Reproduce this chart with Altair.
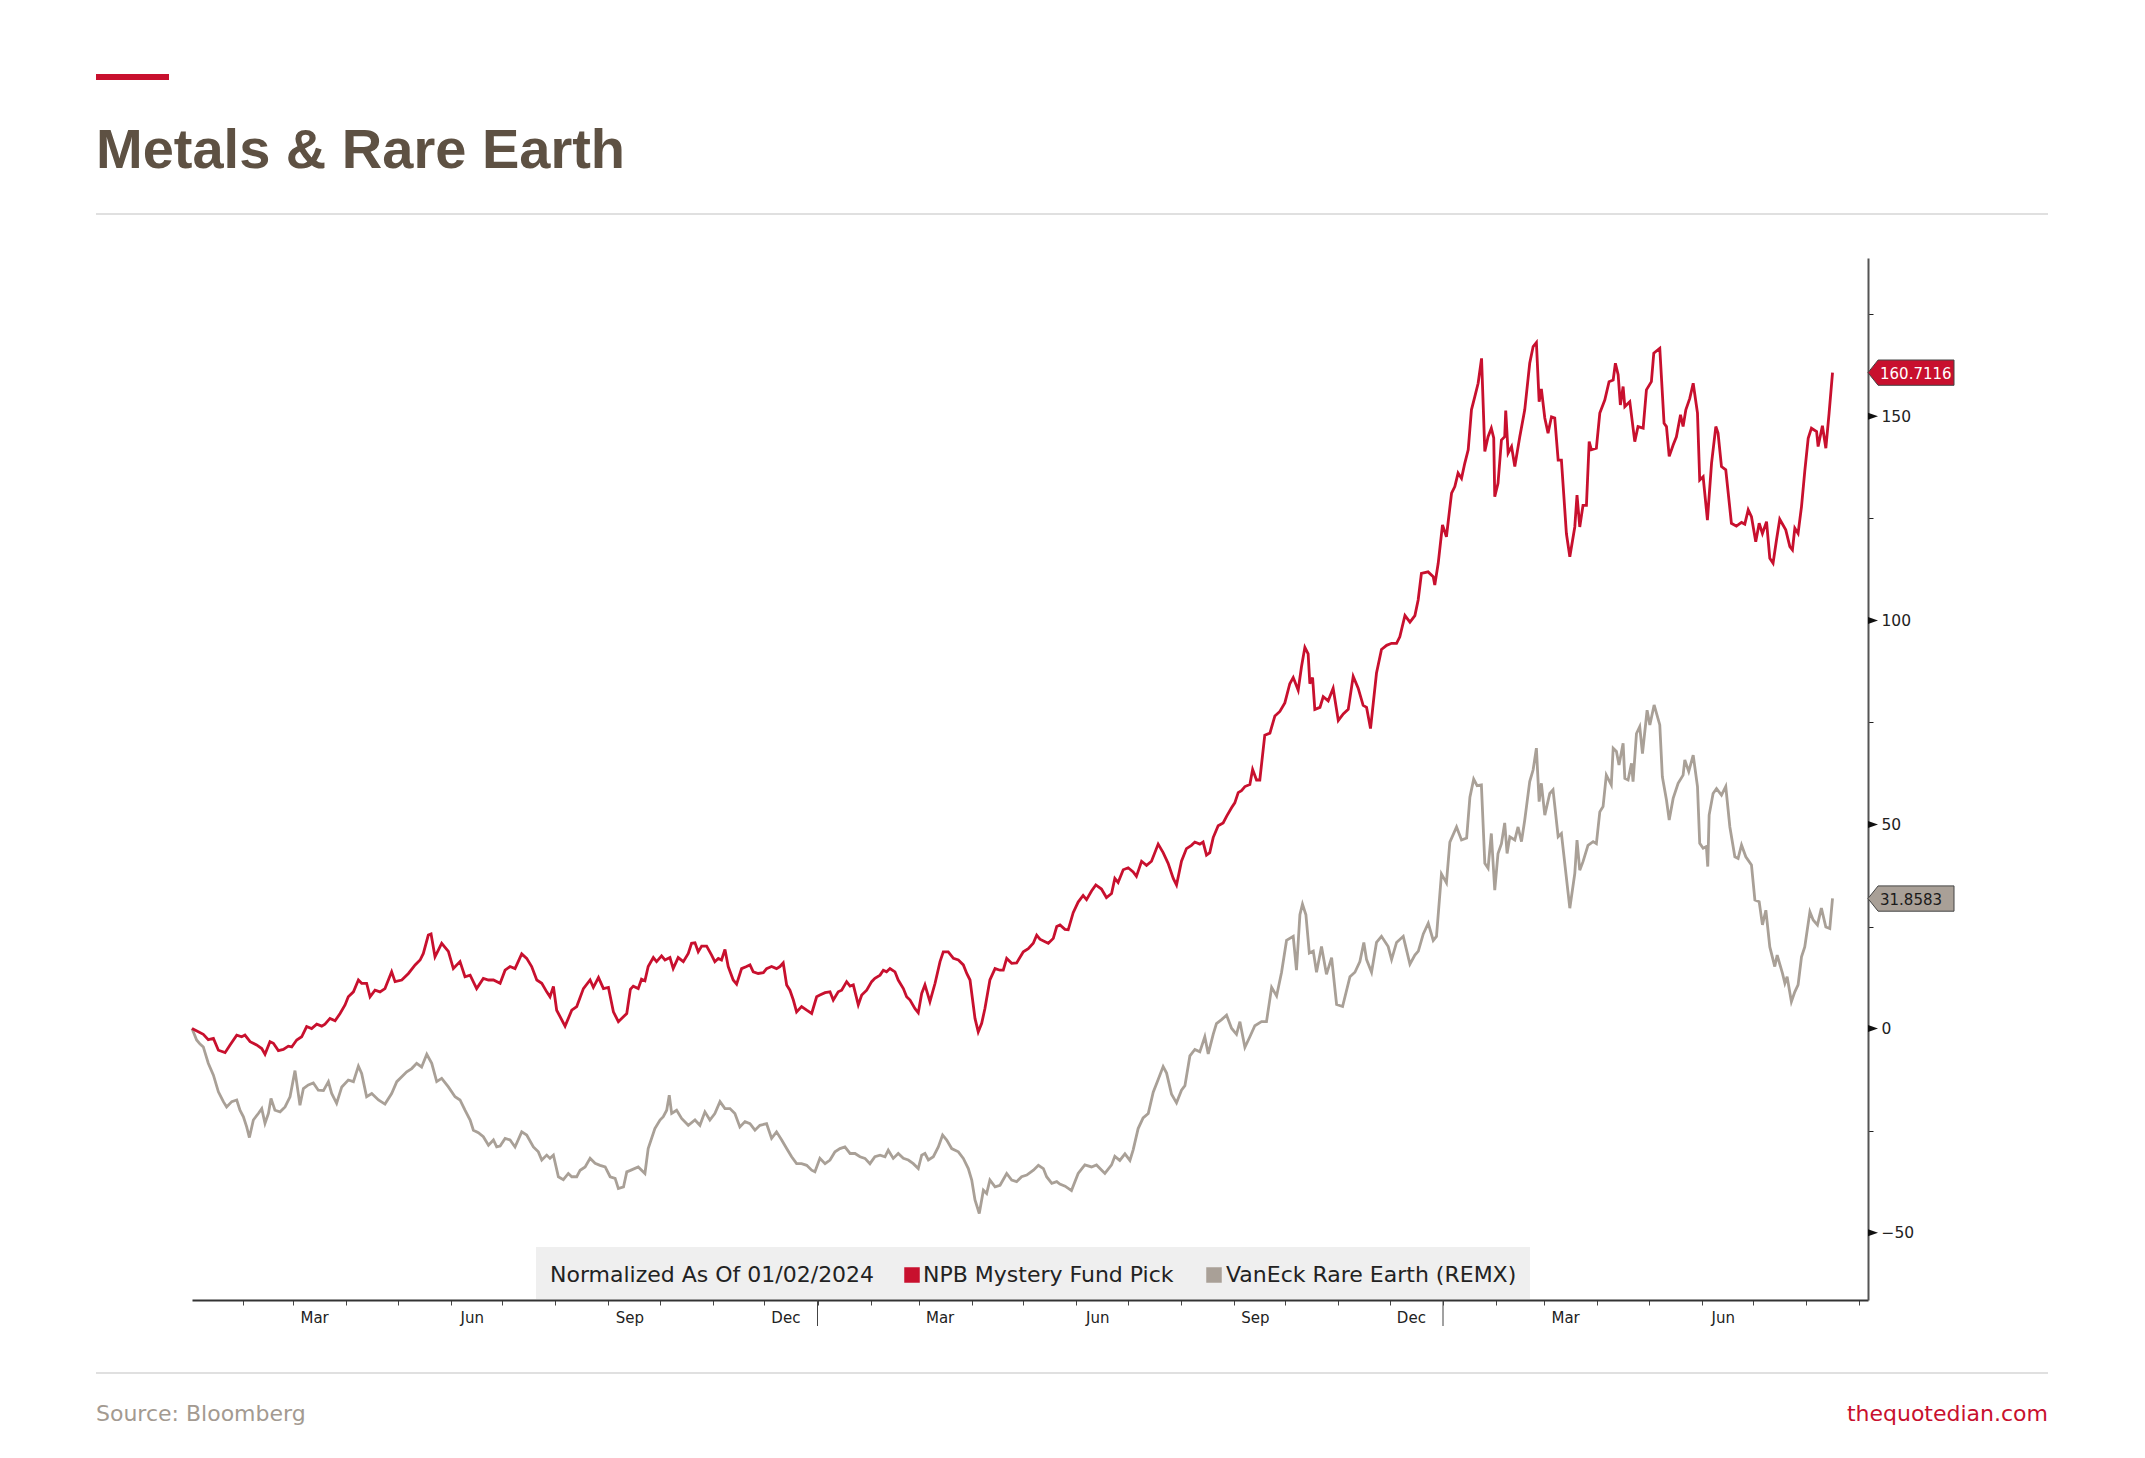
import altair as alt
import pandas as pd

# ---------------- data ----------------
START = "2024-01-02"
SERIES = ["NPB Mystery Fund Pick", "VanEck Rare Earth (REMX)"]
COLORS = ["#c8102e", "#a9a097"]

# (days since 02 Jan 2024, normalized % change)
npb_points = [
    (0, 0.0), (3.7, -0.8), (6.6, -1.4), (9.5, -2.7), (12.5, -2.4), (15.4, -5.3), (19.3, -5.9),
    (22.2, -4.0), (26.1, -1.6), (29.0, -2.0), (30.9, -1.6), (33.9, -3.2), (37.7, -4.0), (40.7, -4.9),
    (42.6, -6.3), (45.5, -3.2), (47.5, -3.6), (50.4, -5.4), (53.3, -5.1), (56.2, -4.3), (58.2, -4.5),
    (61.1, -2.8), (64.0, -2.0), (66.9, 0.5), (69.8, 0.0), (72.8, 1.1), (75.7, 0.6), (77.6, 1.1),
    (80.5, 2.5), (83.5, 1.9), (86.4, 3.7), (89.3, 5.8), (91.2, 7.8), (94.2, 9.0), (97.1, 11.9),
    (99.0, 11.1), (101.9, 11.1), (103.9, 7.8), (106.8, 9.4), (109.7, 9.0), (112.6, 9.8), (116.5, 13.9),
    (118.5, 11.5), (122.4, 11.9), (126.3, 13.5), (130.2, 15.6), (133.1, 16.8), (135.0, 18.4),
    (137.9, 22.9), (139.5, 23.2), (141.8, 17.6), (145.7, 20.9), (149.6, 18.9), (152.5, 14.7),
    (156.4, 16.4), (159.3, 12.7), (162.3, 13.1), (166.1, 9.8), (170.0, 12.3), (173.0, 11.9),
    (175.9, 11.9), (179.8, 11.1), (182.7, 14.3), (185.6, 15.2), (188.5, 14.7), (192.4, 18.3),
    (195.3, 17.2), (198.2, 15.2), (201.2, 11.9), (204.1, 11.1), (207.0, 9.0), (208.9, 7.8),
    (210.9, 10.3), (212.8, 4.5), (217.7, 0.6), (221.6, 4.5), (224.5, 5.4), (228.4, 9.8), (232.3, 11.9),
    (234.2, 10.1), (237.2, 12.5), (240.1, 9.8), (243.0, 10.1), (245.9, 4.1), (248.8, 1.7), (253.7, 3.7),
    (255.8, 9.6), (257.5, 10.4), (260.4, 9.8), (262.3, 12.1), (264.3, 11.7), (266.2, 15.2),
    (269.2, 17.4), (271.1, 16.4), (274.0, 17.8), (276.0, 16.8), (278.9, 17.4), (280.8, 14.7),
    (283.7, 17.4), (286.7, 16.4), (289.6, 18.4), (291.5, 20.9), (293.5, 21.0), (295.4, 18.8),
    (297.4, 20.2), (300.3, 20.2), (303.2, 18.0), (305.1, 16.4), (307.1, 17.2), (309.0, 16.8),
    (311.0, 19.4), (312.9, 15.2), (315.8, 11.9), (317.8, 10.9), (320.7, 14.7), (323.6, 15.2),
    (325.6, 15.6), (327.5, 13.9), (330.4, 13.5), (333.4, 13.7), (335.3, 14.7), (338.2, 15.2),
    (341.1, 14.7), (343.1, 15.2), (345.0, 16.1), (347.0, 10.7), (348.9, 9.4), (350.9, 7.0),
    (352.8, 4.1), (355.7, 5.4), (358.7, 4.5), (361.6, 3.7), (364.5, 7.8), (366.4, 8.2), (369.4, 8.8),
    (372.3, 9.0), (374.2, 7.0), (377.1, 9.0), (379.1, 9.4), (382.0, 11.5), (384.0, 10.4), (385.9, 10.7),
    (388.8, 5.8), (390.8, 8.2), (393.7, 9.4), (396.6, 11.5), (398.5, 12.3), (401.5, 13.1), (403.4, 14.3),
    (405.3, 13.9), (407.3, 14.7), (410.2, 13.9), (412.1, 11.9), (415.1, 9.8), (417.0, 7.8), (419.0, 7.0),
    (421.9, 4.9), (423.8, 3.9), (425.8, 8.6), (427.7, 10.7), (430.6, 6.6), (433.6, 11.1), (436.5, 16.4),
    (438.4, 18.8), (441.3, 18.8), (444.3, 17.2), (447.2, 16.8), (450.1, 15.6), (452.1, 13.5),
    (454.0, 11.9), (456.9, 2.5), (458.8, -0.8), (460.8, 1.3), (462.7, 4.9), (465.6, 11.9), (468.6, 14.7),
    (471.5, 14.3), (473.4, 14.3), (475.4, 17.2), (478.3, 16.0), (481.2, 16.1), (485.1, 18.8),
    (488.0, 19.6), (490.9, 20.9), (492.9, 22.9), (494.8, 21.9), (497.8, 21.3), (499.7, 20.9),
    (502.6, 22.1), (504.6, 25.0), (506.5, 25.4), (509.4, 24.3), (511.3, 24.2), (514.2, 28.4),
    (517.1, 31.0), (520.0, 32.6), (522.0, 31.6), (524.9, 33.7), (527.4, 35.2), (530.7, 34.2),
    (533.6, 32.1), (536.6, 33.1), (538.5, 36.8), (540.4, 35.8), (543.4, 38.9), (546.3, 39.4),
    (549.2, 38.4), (551.1, 37.3), (554.1, 41.0), (557.0, 40.0), (559.9, 41.0), (563.8, 45.2),
    (566.7, 43.1), (569.6, 40.5), (572.6, 36.8), (574.5, 35.2), (577.4, 41.0), (580.3, 44.1),
    (583.2, 44.9), (585.2, 45.7), (588.1, 45.2), (590.0, 45.7), (592.0, 42.5), (593.9, 43.1),
    (595.9, 46.8), (598.8, 49.7), (601.7, 50.4), (603.7, 52.0), (606.6, 54.1), (608.5, 55.3),
    (610.5, 57.8), (612.4, 58.3), (614.4, 59.3), (617.3, 59.8), (618.9, 63.5), (621.2, 60.9),
    (623.1, 60.9), (626.0, 71.9), (629.0, 72.4), (631.9, 76.6), (634.8, 77.7), (637.7, 79.8),
    (640.6, 84.5), (642.6, 86.0), (645.5, 82.9), (647.4, 88.6), (649.4, 93.4), (651.3, 91.8),
    (652.3, 84.5), (653.9, 86.0), (655.2, 78.2), (658.2, 78.7), (660.1, 81.3), (663.0, 80.3),
    (665.9, 83.4), (668.9, 75.5), (671.8, 77.1), (674.7, 78.2), (677.6, 86.3), (680.5, 83.4),
    (683.4, 79.2), (685.4, 78.7), (687.7, 73.5), (691.2, 87.1), (694.1, 92.9), (697.1, 93.9),
    (700.0, 94.4), (702.9, 94.4), (704.8, 96.0), (707.8, 101.2), (710.7, 99.6), (713.6, 101.2),
    (715.5, 105.0), (717.4, 111.5), (721.3, 111.9), (724.3, 110.7), (725.2, 108.7), (727.2, 114.0),
    (729.7, 123.4), (732.0, 120.5), (735.0, 131.2), (736.9, 132.8), (738.8, 136.1), (740.8, 134.8),
    (742.7, 138.5), (744.7, 141.8), (746.6, 151.6), (748.6, 154.9), (750.5, 158.1), (752.5, 164.2),
    (754.4, 141.4), (756.3, 145.0), (758.2, 147.1), (759.6, 144.7), (760.2, 130.3), (762.1, 133.6),
    (764.1, 144.2), (766.0, 145.0), (766.6, 151.4), (768.0, 141.0), (770.0, 142.6), (771.9, 137.7),
    (774.8, 145.0), (777.7, 151.6), (780.6, 163.0), (782.6, 167.1), (784.5, 168.1), (786.1, 153.6),
    (787.4, 156.7), (789.4, 149.6), (791.3, 145.9), (793.3, 149.9), (795.2, 149.6), (797.2, 139.3),
    (799.1, 139.3), (802.0, 121.3), (804.0, 115.6), (806.9, 122.9), (808.2, 130.7), (809.8, 122.9),
    (811.7, 128.2), (813.7, 128.2), (815.3, 143.8), (816.6, 141.8), (819.5, 142.2), (821.5, 150.8),
    (824.4, 154.0), (826.9, 158.5), (829.3, 158.9), (830.6, 163.0), (832.2, 160.2), (833.5, 152.8),
    (835.1, 157.3), (836.1, 152.4), (839.0, 153.6), (841.9, 143.8), (843.8, 147.5), (846.8, 147.1),
    (848.7, 156.5), (851.6, 158.5), (853.0, 165.5), (856.5, 166.7), (859.0, 148.3), (860.4, 147.5),
    (862.0, 140.2), (864.3, 143.0), (866.2, 145.0), (868.6, 150.4), (870.1, 147.5), (871.7, 151.6),
    (874.0, 154.4), (876.0, 158.1), (878.5, 150.8), (879.8, 134.4), (881.8, 135.2), (884.3, 124.6),
    (886.7, 138.5), (889.2, 147.5), (890.5, 145.9), (892.5, 137.7), (895.0, 136.9), (898.3, 123.8),
    (901.2, 123.1), (904.2, 124.0), (906.1, 123.6), (908.1, 127.1), (910.0, 125.4), (912.5, 119.3),
    (914.5, 123.8), (916.4, 121.3), (918.8, 124.2), (920.7, 115.2), (922.6, 114.0), (924.6, 119.7),
    (926.5, 124.8), (930.0, 122.2), (932.4, 118.1), (933.9, 117.3), (935.3, 122.6), (937.2, 121.3),
    (939.2, 127.9), (941.1, 136.5), (943.1, 144.6), (945.0, 147.1), (948.0, 146.3), (948.9, 142.6),
    (951.4, 147.7), (953.4, 142.2), (955.3, 150.8), (957.3, 160.7),
]

remx_points = [
    (0, 0.0), (2.7, -2.8), (4.7, -3.8), (6.6, -4.5), (9.5, -8.5), (12.5, -11.4), (15.4, -15.5),
    (18.3, -17.9), (20.2, -19.2), (23.2, -17.9), (26.1, -17.5), (28.0, -20.0), (30.0, -21.6),
    (31.9, -24.1), (33.5, -26.7), (35.8, -22.4), (38.7, -20.8), (40.7, -19.6), (42.6, -23.2),
    (44.6, -20.8), (46.1, -17.1), (48.4, -20.0), (51.4, -20.4), (54.3, -19.2), (57.2, -16.7),
    (60.1, -10.3), (63.0, -18.8), (65.0, -14.7), (67.9, -13.8), (70.8, -13.3), (73.7, -15.1),
    (76.7, -15.2), (79.6, -13.0), (81.5, -15.9), (84.4, -18.3), (87.4, -14.3), (91.2, -12.6),
    (94.2, -13.0), (97.1, -9.2), (99.0, -11.0), (101.9, -16.7), (104.9, -15.9), (108.8, -17.5),
    (112.6, -18.5), (116.5, -15.9), (119.5, -13.0), (122.4, -11.8), (125.3, -10.6), (128.2, -9.8),
    (131.1, -8.5), (134.0, -9.4), (137.0, -6.3), (139.9, -8.5), (142.8, -13.0), (145.7, -12.2),
    (149.6, -14.3), (153.5, -16.7), (156.4, -17.5), (159.3, -20.0), (162.3, -22.4), (164.2, -24.9),
    (167.1, -25.5), (170.0, -26.5), (173.0, -28.6), (175.9, -27.3), (177.8, -29.0), (179.8, -28.8),
    (182.7, -26.9), (185.6, -27.3), (188.5, -29.0), (192.4, -25.3), (195.3, -26.1), (199.2, -29.0),
    (202.1, -30.2), (204.1, -32.2), (207.0, -31.0), (208.9, -31.8), (210.9, -31.0), (213.8, -36.3),
    (216.7, -37.0), (219.6, -35.5), (221.6, -36.3), (224.5, -36.3), (226.5, -34.7), (229.4, -33.9),
    (232.3, -31.8), (235.2, -33.0), (238.1, -33.5), (241.1, -33.9), (244.0, -36.3), (246.9, -36.7),
    (248.8, -39.2), (251.8, -38.8), (253.7, -35.1), (255.5, -34.8), (260.4, -33.9), (264.3, -35.5),
    (266.2, -29.4), (270.1, -24.5), (273.1, -22.4), (275.0, -21.6), (277.0, -20.0), (278.5, -16.3),
    (279.9, -20.8), (282.8, -20.0), (285.7, -22.0), (289.6, -23.7), (293.5, -22.4), (296.4, -23.7),
    (299.3, -20.4), (302.2, -22.4), (305.1, -20.8), (308.1, -17.9), (311.0, -19.6), (313.9, -19.6),
    (316.8, -20.8), (319.7, -24.1), (322.7, -22.8), (325.6, -23.3), (328.5, -24.9), (331.4, -23.7),
    (335.3, -23.3), (338.2, -26.9), (341.1, -25.3), (344.1, -27.3), (347.0, -29.4), (349.9, -31.4),
    (352.8, -33.1), (355.7, -33.1), (358.7, -33.5), (361.6, -34.7), (363.5, -35.1), (366.4, -31.8),
    (369.4, -33.1), (372.3, -32.2), (375.2, -30.2), (378.1, -29.4), (381.0, -29.0), (384.0, -30.6),
    (386.9, -30.6), (389.8, -31.4), (392.7, -31.8), (395.6, -33.1), (398.5, -31.4), (401.5, -31.0),
    (404.4, -31.4), (406.3, -29.8), (409.2, -31.8), (412.1, -30.6), (415.1, -31.8), (418.0, -32.2),
    (420.9, -33.1), (423.8, -34.3), (425.8, -31.0), (427.7, -30.6), (429.7, -32.2), (432.6, -31.4),
    (435.5, -29.0), (438.0, -26.1), (440.4, -27.3), (443.3, -29.4), (447.2, -30.2), (450.1, -31.8),
    (453.0, -34.3), (455.0, -37.1), (456.9, -42.0), (459.4, -45.3), (461.8, -39.6), (463.7, -40.4),
    (465.6, -37.1), (468.6, -38.8), (471.5, -38.4), (475.4, -35.5), (478.3, -37.1), (481.2, -37.5),
    (484.1, -36.3), (487.1, -35.9), (491.0, -34.7), (493.9, -33.5), (496.8, -34.3), (498.7, -36.3),
    (501.7, -37.9), (504.6, -37.5), (506.4, -38.1), (509.5, -38.6), (513.2, -39.7), (517.1, -35.5),
    (521.0, -33.4), (524.9, -33.9), (527.8, -33.4), (532.7, -35.5), (536.6, -33.4), (538.5, -31.3),
    (541.4, -32.3), (544.4, -30.7), (547.3, -32.3), (549.2, -29.7), (552.1, -24.5), (555.0, -21.9),
    (558.0, -20.8), (560.9, -15.6), (563.8, -12.5), (566.7, -9.3), (568.7, -10.9), (571.6, -16.1),
    (574.5, -18.2), (577.4, -15.1), (579.4, -14.0), (582.3, -6.7), (585.2, -5.1), (588.1, -5.7),
    (591.0, -2.0), (593.0, -6.2), (595.9, -1.4), (597.8, 1.2), (600.8, 2.2), (603.7, 3.3),
    (606.6, 0.1), (609.5, -1.4), (611.5, 1.7), (614.4, -4.6), (617.3, -2.0), (620.2, 0.7),
    (624.1, 1.7), (627.0, 1.7), (630.0, 10.1), (632.9, 8.0), (635.8, 13.8), (638.7, 21.6),
    (642.6, 22.6), (644.5, 14.3), (646.5, 27.9), (648.0, 30.5), (650.0, 27.9), (652.0, 18.5),
    (654.3, 19.0), (656.2, 13.8), (659.1, 20.1), (662.0, 13.3), (665.0, 17.4), (667.9, 5.9),
    (671.4, 5.4), (675.7, 12.7), (678.6, 13.8), (681.5, 16.4), (683.8, 21.1), (685.4, 16.9),
    (688.3, 13.8), (691.2, 21.1), (694.1, 22.6), (698.0, 20.1), (700.0, 16.9), (702.9, 21.1),
    (706.8, 22.6), (710.7, 15.8), (713.6, 18.0), (715.6, 19.0), (718.5, 23.2), (721.4, 25.8),
    (724.3, 21.6), (726.2, 22.6), (729.1, 37.9), (732.0, 35.7), (734.0, 45.7), (737.9, 49.4),
    (740.8, 46.2), (743.8, 46.7), (745.7, 56.7), (747.9, 61.1), (749.9, 59.5), (752.4, 59.7),
    (754.4, 40.5), (756.3, 39.3), (758.2, 47.8), (760.2, 33.9), (762.1, 42.9), (764.1, 45.3),
    (766.0, 50.4), (767.4, 42.9), (769.0, 47.0), (771.9, 46.2), (773.8, 49.4), (775.8, 45.8),
    (777.7, 51.1), (780.6, 60.5), (782.6, 63.4), (784.5, 68.7), (786.1, 55.6), (787.4, 60.1),
    (789.4, 52.3), (792.3, 57.6), (794.2, 58.5), (797.2, 47.0), (799.1, 47.8), (804.0, 29.5),
    (806.9, 38.0), (808.2, 46.2), (809.8, 38.8), (811.7, 40.9), (814.6, 44.9), (817.6, 45.8),
    (819.5, 45.3), (821.5, 53.1), (823.4, 54.4), (825.3, 62.1), (828.2, 59.7), (829.3, 68.7),
    (831.2, 67.9), (832.7, 64.6), (835.1, 69.9), (836.1, 61.3), (838.0, 60.9), (840.0, 65.0),
    (840.9, 60.5), (842.9, 72.3), (844.8, 74.0), (846.4, 67.4), (849.1, 78.0), (850.7, 74.4),
    (853.2, 79.3), (856.5, 74.4), (858.0, 61.7), (860.4, 56.0), (862.0, 51.1), (864.3, 56.4),
    (867.2, 60.1), (870.1, 62.1), (871.1, 65.8), (873.4, 63.0), (876.0, 67.0), (878.5, 59.3),
    (879.8, 45.4), (881.8, 44.2), (883.7, 44.6), (884.5, 39.7), (885.3, 52.3), (887.6, 57.6),
    (889.6, 58.8), (892.5, 57.2), (895.0, 59.3), (897.4, 49.4), (900.3, 42.1), (902.2, 41.7),
    (904.2, 45.0), (906.7, 42.1), (910.0, 40.1), (912.0, 31.5), (914.5, 31.1), (916.4, 25.4),
    (918.4, 29.0), (920.7, 20.0), (923.6, 15.2), (925.0, 18.0), (928.1, 13.5), (929.5, 11.1),
    (930.8, 12.7), (933.3, 6.6), (935.3, 9.0), (937.2, 10.7), (939.2, 17.6), (941.1, 20.0),
    (944.1, 28.6), (946.0, 26.6), (948.5, 25.4), (950.8, 29.5), (953.4, 24.9), (955.7, 24.5),
    (957.3, 31.9),
]

last_values = [160.7116, 31.8583]
last_labels = ["160.7116", "31.8583"]
y_tick_values = [-50, -25, 0, 25, 50, 75, 100, 125, 150, 175]
y_major_values = [-50, 0, 50, 100, 150]
month_tick_list = [(2024, m) for m in range(2, 13)] + [(2025, m) for m in range(1, 13)] + [(2026, m) for m in range(1, 10)]
year_tick_dates = ["2025-01-01", "2026-01-01"]
title_text = ["Metals & Rare Earth"]
legend_title = ["Normalized As Of 01/02/2024"]
source_text = ["Source: Bloomberg"]
site_text = ["thequotedian.com"]

# ---------------- frames ----------------
start = pd.Timestamp(START)


def frame(points, name):
    d, v = zip(*points)
    return pd.DataFrame({
        "date": start + pd.to_timedelta(list(d), unit="D"),
        "value": list(v),
        "series": name,
    })


lines_df = pd.concat([frame(remx_points, SERIES[1]), frame(npb_points, SERIES[0])], ignore_index=True)
tags_df = pd.DataFrame({"series": SERIES, "value": last_values, "label": last_labels})
major_df = pd.DataFrame({"value": y_major_values})
year_df = pd.DataFrame({"date": pd.to_datetime(year_tick_dates)})

# ---------------- layout ----------------
W, H = 1676, 1042
FONT = "Liberation Sans"
BBG = "DejaVu Sans"
RED = COLORS[0]
GREY = COLORS[1]

x_domain = [alt.DateTime(year=2024, month=1, date=2), alt.DateTime(year=2026, month=9, date=6)]
x_scale = alt.Scale(domain=x_domain)
y_scale = alt.Scale(domain=[-66.5, 188.8], nice=False, zero=False)
color_scale = alt.Scale(domain=SERIES, range=COLORS)

x_axis = alt.Axis(
    values=[alt.DateTime(year=y, month=m, date=1) for y, m in month_tick_list],
    labelExpr="(month(datum.value) % 3 == 2 && year(datum.value) * 12 + month(datum.value) < 2026 * 12 + 7) ? timeFormat(datum.value, '%b') : ''",
    labelOffset=21, labelPadding=5, labelFontSize=15, labelFont=BBG, labelColor="#222",
    labelOverlap=False, labelBound=False, labelFlush=False,
    tickSize=5, tickColor="#444", tickWidth=1,
    domainColor="#333", domainWidth=2, grid=False, title=None,
)
y_axis = alt.Axis(
    orient="right", values=y_tick_values,
    labelExpr="datum.value % 50 == 0 ? format(datum.value, 'd') : ''",
    labelFontSize=15.5, labelFont=BBG, labelColor="#222", labelPadding=8,
    tickSize=5, tickColor="#222", tickWidth=1,
    domainColor="#555", domainWidth=2, grid=False, title=None,
)

X = alt.X("date:T", scale=x_scale, axis=x_axis)
Y = alt.Y("value:Q", scale=y_scale, axis=y_axis)

lines = alt.Chart(lines_df).mark_line(strokeWidth=2.8).encode(
    x=X, y=Y,
    color=alt.Color("series:N", scale=color_scale, legend=None),
)

year_ticks = alt.Chart(year_df).mark_rule(color="#444", strokeWidth=1).encode(
    x=X, y=alt.value(H), y2=alt.value(H + 26),
)

majors = alt.Chart(major_df).mark_point(
    shape="M -1 -0.7 L 1 0 L -1 0.7 Z", size=100, filled=True, color="#111", opacity=1
).encode(x=alt.value(W + 5), y=Y)

tag_shape = "M -1 0 L -0.765 -0.294 L 1 -0.294 L 1 0.294 L -0.765 0.294 Z"
tags = alt.Chart(tags_df).mark_point(
    shape=tag_shape, size=7396, filled=True, opacity=1, stroke="#444", strokeWidth=1
).encode(
    x=alt.value(W + 43), y=Y,
    fill=alt.Color("series:N", scale=color_scale, legend=None),
)
tag_text = alt.Chart(tags_df).mark_text(
    align="left", baseline="middle", font=BBG, fontSize=15, dy=1
).encode(
    x=alt.value(W + 12), y=Y,
    text="label:N",
    color=alt.condition(alt.datum.series == SERIES[0], alt.value("white"), alt.value("#1a1a1a")),
)

# legend box inside plot
LY = 1017
legend_bg = alt.Chart(pd.DataFrame({"k": [0]})).mark_rect(color="#efefef").encode(
    x=alt.value(344), x2=alt.value(1338), y=alt.value(989), y2=alt.value(H - 1),
)
legend_title_mark = alt.Chart(pd.DataFrame({"t": legend_title})).mark_text(
    align="left", baseline="middle", font=BBG, fontSize=22, color="#222"
).encode(x=alt.value(358), y=alt.value(LY), text="t:N")
legend_sq1 = alt.Chart(pd.DataFrame({"series": [SERIES[0]]})).mark_square(size=240, opacity=1).encode(
    x=alt.value(720), y=alt.value(LY),
    fill=alt.Color("series:N", scale=color_scale, legend=None),
)
legend_lab1 = alt.Chart(pd.DataFrame({"t": [SERIES[0]]})).mark_text(
    align="left", baseline="middle", font=BBG, fontSize=22, color="#222"
).encode(x=alt.value(731), y=alt.value(LY), text="t:N")
legend_sq2 = alt.Chart(pd.DataFrame({"series": [SERIES[1]]})).mark_square(size=240, opacity=1).encode(
    x=alt.value(1022), y=alt.value(LY),
    fill=alt.Color("series:N", scale=color_scale, legend=None),
)
legend_lab2 = alt.Chart(pd.DataFrame({"t": [SERIES[1]]})).mark_text(
    align="left", baseline="middle", font=BBG, fontSize=22, color="#222"
).encode(x=alt.value(1034), y=alt.value(LY), text="t:N")

# header / footer
one = pd.DataFrame({"k": [0]})
red_bar = alt.Chart(one).mark_rect(color=RED).encode(
    x=alt.value(-96), x2=alt.value(-23), y=alt.value(-184), y2=alt.value(-178),
)
title = alt.Chart(pd.DataFrame({"t": title_text})).mark_text(
    align="left", baseline="alphabetic", font=FONT, fontSize=56, fontWeight="bold", color="#5e5143"
).encode(x=alt.value(-96), y=alt.value(-90), text="t:N")
sep_top = alt.Chart(one).mark_rule(color="#d6d6d6", strokeWidth=1.5).encode(
    x=alt.value(-96), x2=alt.value(1856), y=alt.value(-44),
)
sep_bottom = alt.Chart(one).mark_rule(color="#d6d6d6", strokeWidth=1.5).encode(
    x=alt.value(-96), x2=alt.value(1856), y=alt.value(1115),
)
source = alt.Chart(pd.DataFrame({"t": source_text})).mark_text(
    align="left", baseline="alphabetic", font=BBG, fontSize=22, color="#a39a91"
).encode(x=alt.value(-96), y=alt.value(1163), text="t:N")
site = alt.Chart(pd.DataFrame({"t": site_text})).mark_text(
    align="right", baseline="alphabetic", font=BBG, fontSize=22, color=RED
).encode(x=alt.value(1856), y=alt.value(1163), text="t:N")

chart = alt.layer(
    legend_bg, year_ticks, lines, majors, tags, tag_text,
    legend_title_mark, legend_sq1, legend_lab1, legend_sq2, legend_lab2,
    red_bar, title, sep_top, sep_bottom, source, site,
).properties(
    width=W, height=H,
    padding={"left": 184, "top": 250, "right": 260, "bottom": 140},
    autosize=alt.AutoSizeParams(type="none"),
    background="white",
).configure_view(stroke=None)

chart.save("out.html", embed_options={"renderer": "svg", "actions": False})
